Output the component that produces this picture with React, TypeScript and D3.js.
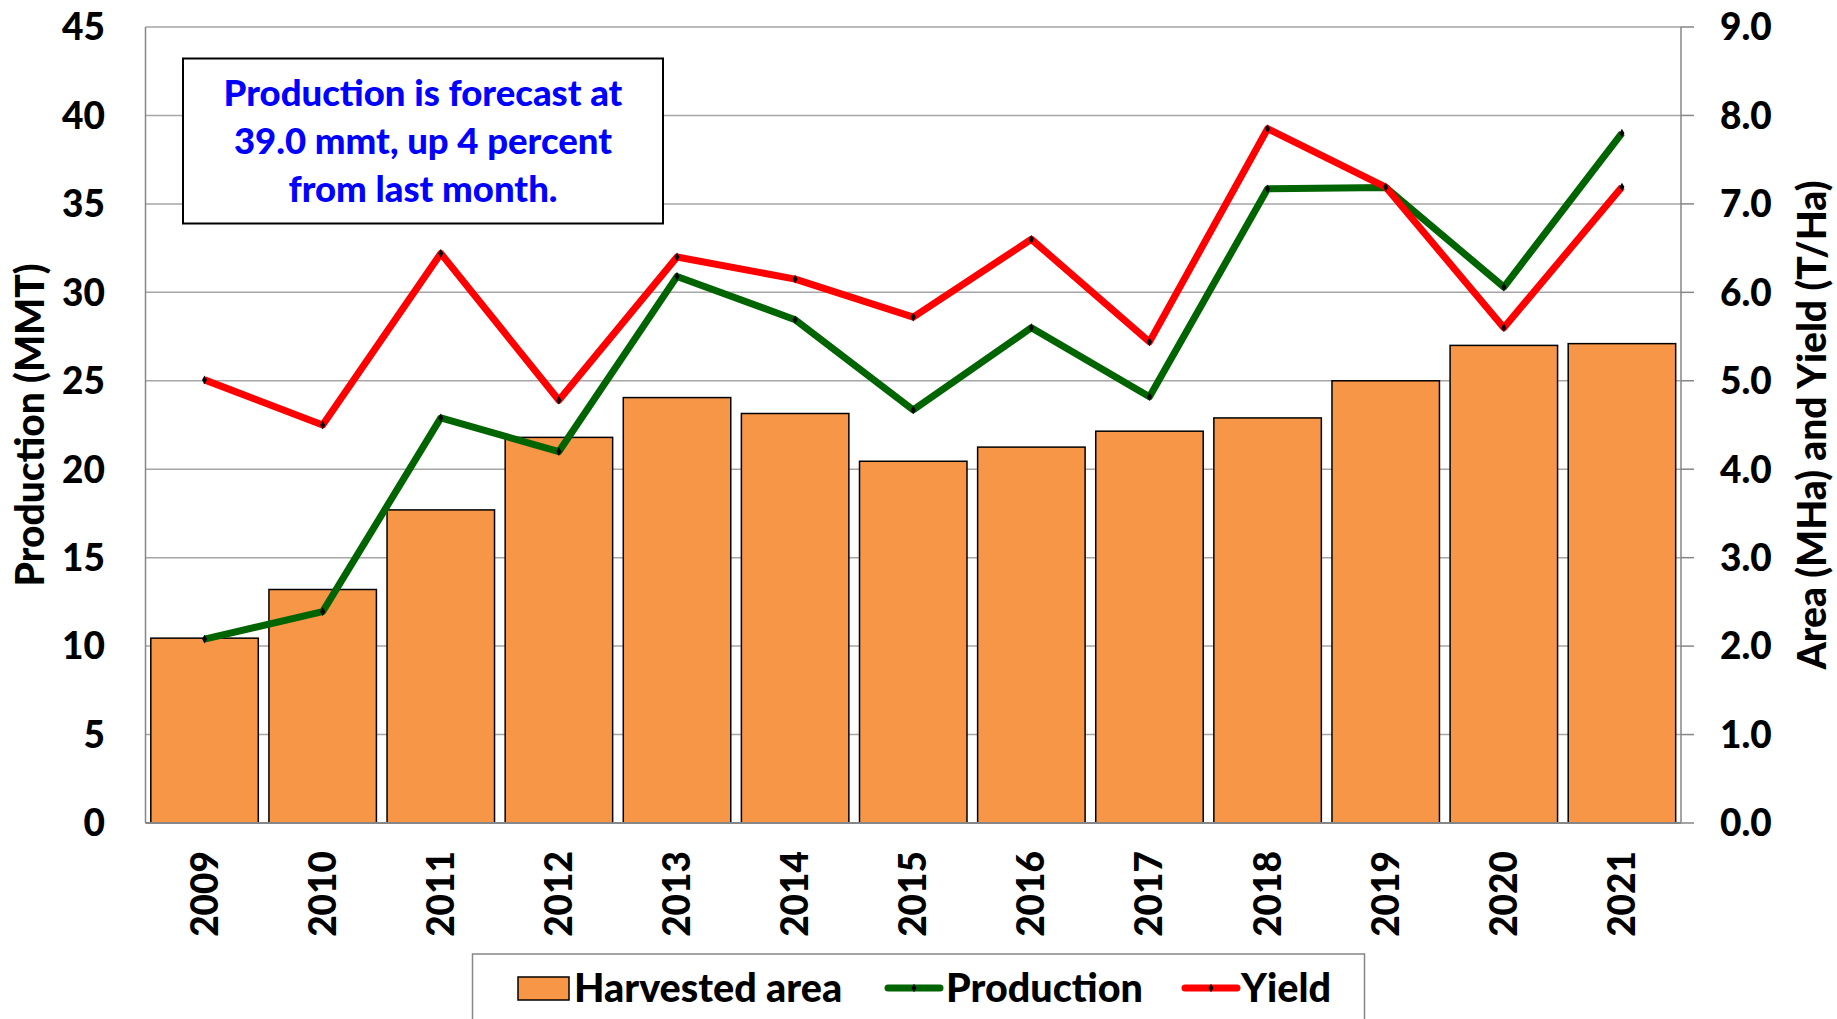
import React from 'react';
import * as d3 from 'd3';

const years = ['2009', '2010', '2011', '2012', '2013', '2014', '2015', '2016', '2017', '2018', '2019', '2020', '2021'];
const harvestedArea = [2.09, 2.64, 3.54, 4.36, 4.81, 4.63, 4.09, 4.25, 4.43, 4.58, 5.0, 5.4, 5.42];
const production = [10.4, 11.95, 22.9, 21.0, 30.9, 28.45, 23.35, 28.0, 24.1, 35.85, 35.93, 30.3, 39.0];
const yieldValues = [5.01, 4.5, 6.44, 4.78, 6.4, 6.15, 5.72, 6.6, 5.44, 7.85, 7.19, 5.6, 7.19];
const leftTicks = [0, 5, 10, 15, 20, 25, 30, 35, 40, 45];
const rightTicks = [0, 1, 2, 3, 4, 5, 6, 7, 8, 9];
const noteLines = ['Production is forecast at', '39.0 mmt, up 4 percent', 'from last month.'];

const W = 1837;
const H = 1019;
const FONT = 'Lato, "Open Sans", sans-serif';

const App = () => {
  const left = 145.5;
  const right = 1681;
  const top = 27;
  const bottom = 823;

  const x = d3.scaleBand<string>()
    .domain(years)
    .range([left, right])
    .paddingInner(0.09)
    .paddingOuter(0.045);

  const yLeft = d3.scaleLinear().domain([0, 45]).range([bottom, top]);
  const yRight = d3.scaleLinear().domain([0, 9]).range([bottom, top]);

  const cx = (d: string) => (x(d) as number) + x.bandwidth() / 2;

  const prodLine = d3.line<number>()
    .x((_, i) => cx(years[i]))
    .y(d => yLeft(d));
  const yieldLine = d3.line<number>()
    .x((_, i) => cx(years[i]))
    .y(d => yRight(d));

  const diamond = d3.symbol().type(d3.symbolDiamond).size(22)();

  const gridColor = '#a6a6a6';
  const axisColor = '#868686';

  return (
    <svg width={W} height={H} style={{ position: 'absolute', left: 0, top: 0, background: '#fff' }}
      fontFamily={FONT} fontWeight={900}>
      <rect width={W} height={H} fill="#fff" />

      {/* gridlines */}
      {leftTicks.map(t => (
        <line key={t} x1={left} x2={right} y1={yLeft(t)} y2={yLeft(t)} stroke={gridColor} strokeWidth={1.5} />
      ))}

      {/* right axis ticks */}
      {rightTicks.map(t => (
        <line key={t} x1={right} x2={right + 13} y1={yRight(t)} y2={yRight(t)} stroke={axisColor} strokeWidth={1.5} />
      ))}
      <line x1={left} x2={left} y1={top} y2={bottom} stroke={axisColor} strokeWidth={1.5} />
      <line x1={right} x2={right} y1={top} y2={bottom} stroke={axisColor} strokeWidth={1.5} />

      {/* bars */}
      {harvestedArea.map((v, i) => (
        <rect key={years[i]} x={x(years[i])} y={yRight(v)} width={x.bandwidth()} height={bottom - yRight(v)}
          fill="#F79646" stroke="#000" strokeWidth={1.5} />
      ))}
      <line x1={left} x2={right} y1={bottom} y2={bottom} stroke={axisColor} strokeWidth={2} />

      {/* lines */}
      <path d={prodLine(production) || ''} fill="none" stroke="#006400" strokeWidth={7} strokeLinejoin="round" />
      {production.map((v, i) => (
        <path key={'p' + i} d={diamond || ''} transform={`translate(${cx(years[i])},${yLeft(v)})`} fill="#000" />
      ))}
      <path d={yieldLine(yieldValues) || ''} fill="none" stroke="#ff0000" strokeWidth={7} strokeLinejoin="round" />
      {yieldValues.map((v, i) => (
        <path key={'y' + i} d={diamond || ''} transform={`translate(${cx(years[i])},${yRight(v)})`} fill="#000" />
      ))}

      {/* left tick labels */}
      {leftTicks.map(t => (
        <text key={t} x={105} y={yLeft(t)} dy="0.36em" textAnchor="end" fontSize={37} fill="#000">{t}</text>
      ))}
      {/* right tick labels */}
      {rightTicks.map(t => (
        <text key={t} x={1720} y={yRight(t)} dy="0.36em" textAnchor="start" fontSize={37} fill="#000">{t.toFixed(1)}</text>
      ))}

      {/* x labels */}
      {years.map(yr => (
        <text key={yr} transform={`translate(${cx(yr) + 13},${851}) rotate(-90)`} textAnchor="end"
          fontSize={37} fill="#000">{yr}</text>
      ))}

      {/* axis titles */}
      <text transform={`translate(${44},${(top + bottom) / 2}) rotate(-90)`} textAnchor="middle" fontSize={39} fill="#000">
        Production (MMT)
      </text>
      <text transform={`translate(${1826},${(top + bottom) / 2}) rotate(-90)`} textAnchor="middle" fontSize={39} fill="#000">
        Area (MHa) and Yield (T/Ha)
      </text>

      {/* note box */}
      <rect x={183} y={58.5} width={480} height={165} fill="#fff" stroke="#000" strokeWidth={2} />
      {noteLines.map((s, i) => (
        <text key={i} x={423} y={93 + i * 48} dy="0.36em" textAnchor="middle" fontSize={36.5} fill="#0000ff">{s}</text>
      ))}

      {/* legend */}
      <rect x={472.5} y={954} width={892} height={80} fill="#fff" stroke={axisColor} strokeWidth={1.5} />
      <rect x={518} y={977} width={51} height={23} fill="#F79646" stroke="#000" strokeWidth={1.5} />
      <text x={574} y={988} dy="0.36em" fontSize={39.5} fill="#000">Harvested area</text>
      <line x1={888} x2={940} y1={988} y2={988} stroke="#006400" strokeWidth={7} strokeLinecap="round" />
      <path d={diamond || ''} transform="translate(914,988)" fill="#000" />
      <text x={946} y={988} dy="0.36em" fontSize={39.5} fill="#000">Production</text>
      <line x1={1185} x2={1237} y1={988} y2={988} stroke="#ff0000" strokeWidth={7} strokeLinecap="round" />
      <path d={diamond || ''} transform="translate(1211,988)" fill="#000" />
      <text x={1241} y={988} dy="0.36em" fontSize={39.5} fill="#000">Yield</text>
    </svg>
  );
};

export default App;
